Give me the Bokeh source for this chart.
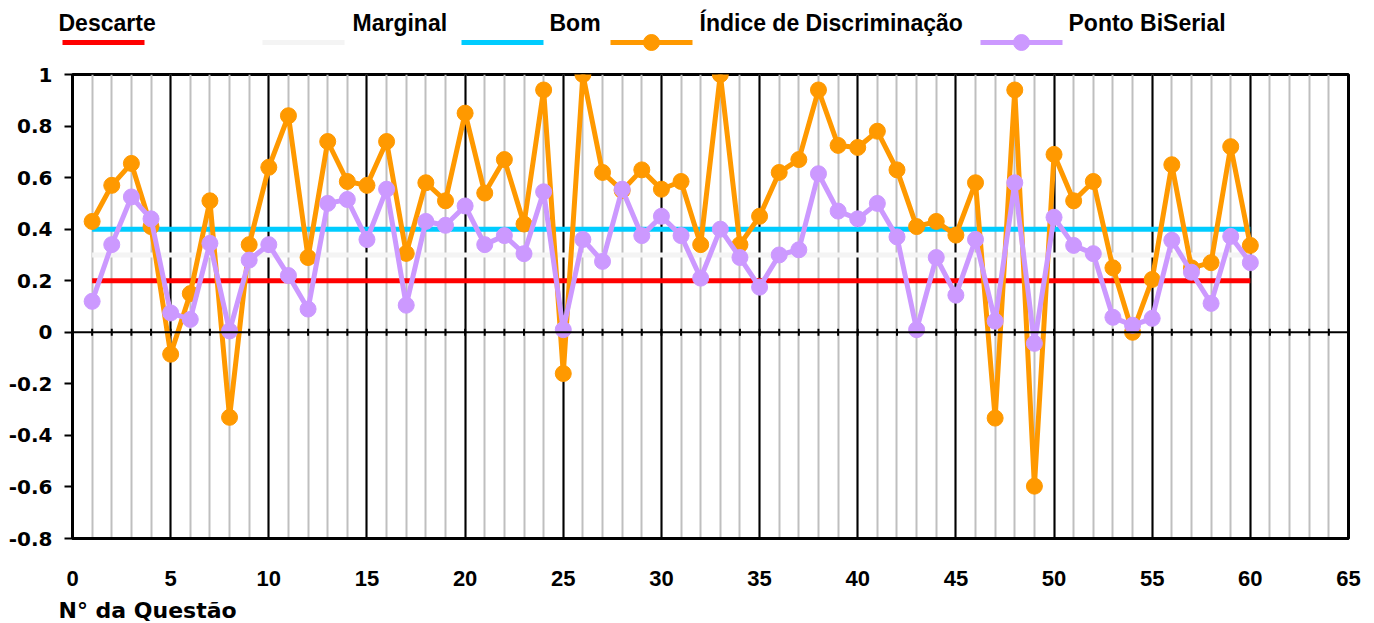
from bokeh.plotting import figure
from bokeh.layouts import column
from bokeh.models import (Range1d, SingleIntervalTicker, FixedTicker, Span, ColumnDataSource)
from bokeh.core.properties import value
from bokeh.embed import file_html
from bokeh.resources import INLINE
import math

# ---------------- data ----------------
questions = list(range(1, 61))
indice = [0.43, 0.57, 0.655, 0.41, -0.085, 0.15, 0.51, -0.33, 0.34, 0.64,
          0.84, 0.29, 0.74, 0.585, 0.57, 0.74, 0.306, 0.58, 0.51, 0.85,
          0.54, 0.67, 0.42, 0.94, -0.16, 1.0, 0.62, 0.55, 0.63, 0.555,
          0.585, 0.34, 1.0, 0.34, 0.45, 0.62, 0.67, 0.94, 0.725, 0.717,
          0.78, 0.63, 0.41, 0.43, 0.377, 0.58, -0.333, 0.94, -0.597, 0.69,
          0.51, 0.585, 0.25, 0.0, 0.205, 0.65, 0.25, 0.27, 0.72, 0.337]
biserial = [0.12, 0.34, 0.525, 0.44, 0.075, 0.05, 0.345, 0.005, 0.28, 0.34,
            0.22, 0.09, 0.50, 0.515, 0.36, 0.555, 0.105, 0.43, 0.415, 0.49,
            0.34, 0.375, 0.305, 0.545, 0.01, 0.36, 0.275, 0.555, 0.375, 0.45,
            0.375, 0.21, 0.40, 0.29, 0.175, 0.30, 0.32, 0.615, 0.47, 0.44,
            0.50, 0.37, 0.01, 0.29, 0.144, 0.36, 0.043, 0.58, -0.043, 0.446,
            0.337, 0.305, 0.058, 0.027, 0.054, 0.357, 0.233, 0.112, 0.372, 0.27]
descarte = 0.2
marginal = 0.3
bom = 0.4

series_labels = ["Descarte", "Marginal", "Bom", "Índice de Discriminação", "Ponto BiSerial"]
y_ticks = [-0.8, -0.6, -0.4, -0.2, 0, 0.2, 0.4, 0.6, 0.8, 1]
y_tick_labels = ["-0.8", "-0.6", "-0.4", "-0.2", "0", "0.2", "0.4", "0.6", "0.8", "1"]
x_title = "N° da Questão"

# ---------------- styles / layout ----------------
colors = ["#FF0000", "#F4F4F4", "#00CCFF", "#FF9900", "#CC99FF"]
has_marker = [False, False, False, True, True]
FONT_LEG = "Liberation Sans"
W = 1374
TOTAL_H = 623
LEG_H = 60      # legend strip on top
BOT_H = 27      # x-title strip at the bottom
MAIN_H = TOTAL_H - LEG_H - BOT_H

leg_line_x0 = [62, 262, 461, 610, 980]
leg_line_len = 82
leg_text_x = [58, 352, 549, 699, 1068]
leg_line_y = 42
leg_text_y = 22
title_x = 58


def strip(height):
    f = figure(width=W, height=height, x_range=Range1d(0, W), y_range=Range1d(height, 0),
               output_backend="svg", toolbar_location=None,
               x_axis_location=None, y_axis_location=None, min_border=0)
    f.outline_line_color = None
    f.grid.visible = False
    f.background_fill_color = "white"
    f.border_fill_color = "white"
    return f


leg = strip(LEG_H)
bot = strip(BOT_H)

# ---------------- main figure ----------------
p = figure(width=W, height=MAIN_H, x_range=Range1d(0, 65), y_range=Range1d(-0.8, 1),
           output_backend="svg", toolbar_location=None,
           min_border_left=72, min_border_right=26, min_border_top=74 - LEG_H,
           min_border_bottom=MAIN_H - (74 - LEG_H) - 464)

# keep the strips' frames independent of the chart frame
if "frame_align" in leg.properties():
    for f in (leg, bot, p):
        f.frame_align = False
else:
    leg.x_range = Range1d(72, 1348)
    bot.x_range = Range1d(72, 1348)
    title_x = 72

# legend strip
leg.segment(x0=leg_line_x0, y0=[leg_line_y] * 5,
            x1=[x + leg_line_len for x in leg_line_x0], y1=[leg_line_y] * 5,
            line_color=colors, line_width=5)
mk_x = [x + leg_line_len / 2 for x, m in zip(leg_line_x0, has_marker) if m]
mk_c = [c for c, m in zip(colors, has_marker) if m]
leg.scatter(x=mk_x, y=[leg_line_y] * len(mk_x), size=16, fill_color=mk_c, line_color=mk_c)
leg.text(x=leg_text_x, y=[leg_text_y] * 5, text=series_labels,
         text_font=value(FONT_LEG), text_font_style="bold", text_font_size="23px",
         text_baseline="middle", text_align="left", text_color="black")

# x-title strip
bot.text(x=[title_x], y=[BOT_H / 2], text=[x_title],
         text_font=value("DejaVu Sans"), text_font_style="bold", text_font_size="22px",
         text_baseline="middle", text_align="left", text_color="black")

p.background_fill_color = "white"
p.border_fill_color = "white"
p.outline_line_color = "black"
p.outline_line_width = 3

# x axis / grid
p.xaxis.ticker = SingleIntervalTicker(interval=5, num_minor_ticks=5)
p.xaxis.major_tick_out = 0
p.xaxis.major_tick_in = 0
p.xaxis.minor_tick_out = 0
p.xaxis.minor_tick_in = 0
p.xaxis.axis_line_color = "black"
p.xaxis.axis_line_width = 3
p.xaxis.major_label_standoff = 32
p.xaxis.major_label_text_font = "Liberation Sans"
p.xaxis.major_label_text_font_style = "bold"
p.xaxis.major_label_text_font_size = "22px"
p.xaxis.major_label_text_color = "black"
p.xgrid.grid_line_color = "black"
p.xgrid.grid_line_width = 2
p.xgrid.minor_grid_line_color = "#BFBFBF"
p.xgrid.minor_grid_line_width = 2

# y axis
p.yaxis.ticker = FixedTicker(ticks=y_ticks)
p.yaxis.major_label_overrides = {t: l for t, l in zip(y_ticks, y_tick_labels)}
p.yaxis.axis_line_color = "black"
p.yaxis.axis_line_width = 3
p.yaxis.major_tick_out = 8
p.yaxis.major_tick_in = 0
p.yaxis.major_tick_line_width = 2
p.yaxis.minor_tick_out = 0
p.yaxis.minor_tick_in = 0
p.yaxis.major_label_standoff = 12
p.yaxis.major_label_text_font = "DejaVu Sans"
p.yaxis.major_label_text_font_style = "bold"
p.yaxis.major_label_text_font_size = "20px"
p.yaxis.major_label_text_color = "black"
p.ygrid.visible = False

# zero line with small ticks
p.add_layout(Span(location=0, dimension="width", line_color="black", line_width=2))
zero_ticks = list(range(0, 66))
p.scatter(x=zero_ticks, y=[0] * len(zero_ticks), marker="dash", angle=math.pi / 2,
          size=7, line_color="black", line_width=2)

# threshold lines
xs_ref = [questions[0], questions[-1]]
p.line(xs_ref, [descarte, descarte], line_color=colors[0], line_width=5)
p.line(xs_ref, [marginal, marginal], line_color=colors[1], line_width=5)
p.line(xs_ref, [bom, bom], line_color=colors[2], line_width=5)

src = ColumnDataSource(dict(q=questions, ind=indice, bis=biserial))
p.line("q", "ind", source=src, line_color=colors[3], line_width=5)
p.scatter("q", "ind", source=src, size=16, fill_color=colors[3], line_color=colors[3])
p.line("q", "bis", source=src, line_color=colors[4], line_width=5)
p.scatter("q", "bis", source=src, size=16, fill_color=colors[4], line_color=colors[4])

layout = column(leg, p, bot, spacing=0)
open("out.html", "w").write(file_html(layout, INLINE))
